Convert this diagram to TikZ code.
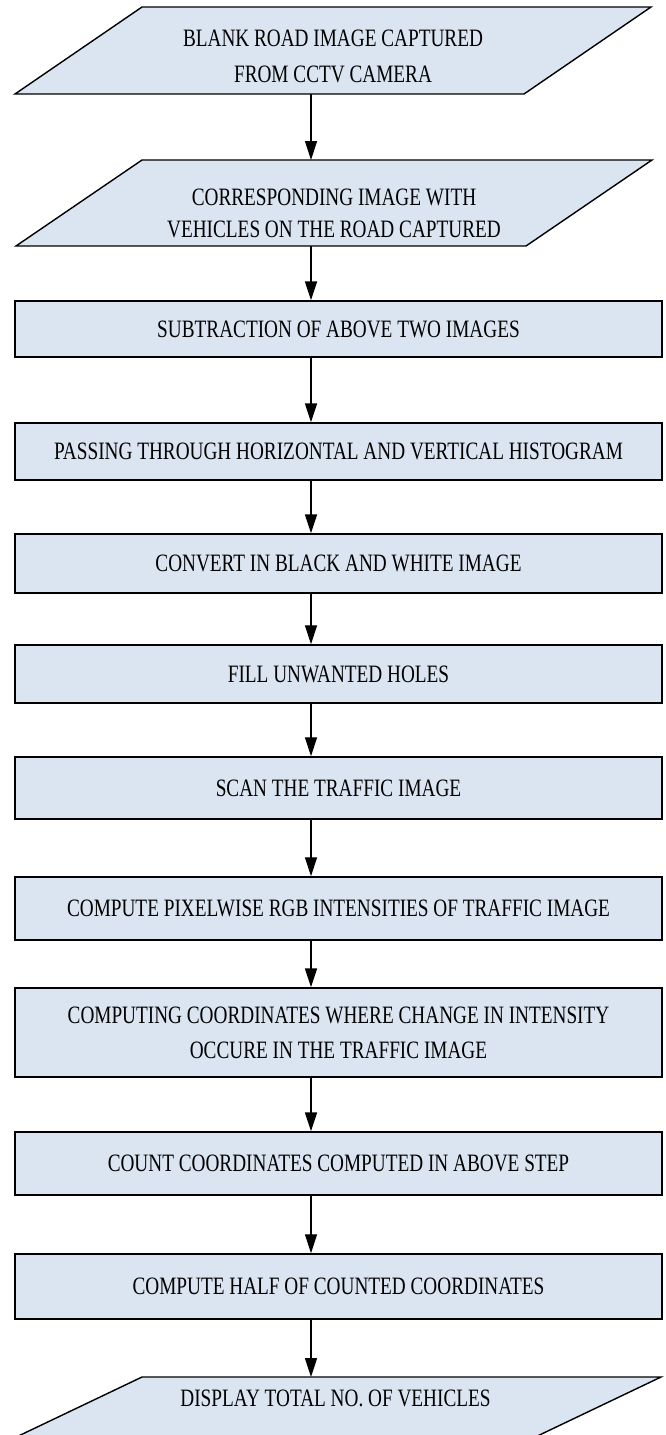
\documentclass[tikz,border=0pt]{standalone}
\usepackage{fontspec}
\setmainfont[FakeStretch=0.77]{Liberation Serif}
\usetikzlibrary{arrows.meta,calc}
\definecolor{boxfill}{HTML}{DBE5F1}
\begin{document}
\begin{tikzpicture}[x=1pt,y=-1pt,
  txt/.style={font=\fontsize{25}{36}\selectfont, inner sep=0pt, align=center, text=black},
  stepbox/.style={txt, draw=black, line width=1.4pt, fill=boxfill, minimum width=647pt},
  holder/.style={inner sep=0pt, outer sep=0pt},
  para/.style={draw=black, line width=1.4pt, fill=boxfill, line join=miter},
  arr/.style={-{Triangle[length=19pt,width=12pt]}, line width=1.6pt},
  arrthin/.style={-{Triangle[length=19pt,width=12pt]}, line width=1.1pt}]
\clip (0,0) rectangle (665,1435);
\coordinate (ax) at (311,0);

% parallelogram 1
\node[holder, minimum width=636pt, minimum height=87pt] (p1) at (333,50.5) {};
\path[para] ($(p1.north west)+(127,0)$) -- (p1.north east) -- ($(p1.south east)+(-127,0)$) -- (p1.south west) -- cycle;
\node[txt, font=\fontsize{25}{36}\selectfont] (t1) at ($(p1.center)+(0,6)$) {BLANK ROAD IMAGE CAPTURED\\FROM CCTV CAMERA};

% parallelogram 2
\node[holder, minimum width=636pt, minimum height=86pt] (p2) at (334,203) {};
\path[para] ($(p2.north west)+(126,0)$) -- (p2.north east) -- ($(p2.south east)+(-126,0)$) -- (p2.south west) -- cycle;
\node[txt, font=\fontsize{25}{32}\selectfont] (t2) at ($(p2.center)+(0,10)$) {CORRESPONDING IMAGE WITH\\VEHICLES ON THE ROAD CAPTURED};

% rectangles
\node[stepbox, minimum height=56pt] (r1) at (338.5,329) {SUBTRACTION OF ABOVE TWO IMAGES};
\node[stepbox, minimum height=57pt] (r2) at (338.5,451.5) {PASSING THROUGH HORIZONTAL AND VERTICAL HISTOGRAM};
\node[stepbox, minimum height=59pt] (r3) at (338.5,563.5) {CONVERT IN BLACK AND WHITE IMAGE};
\node[stepbox, minimum height=58pt] (r4) at (338.5,674) {FILL UNWANTED HOLES};
\node[stepbox, minimum height=62pt] (r5) at (338.5,788) {SCAN THE TRAFFIC IMAGE};
\node[stepbox, minimum height=63pt] (r6) at (338.5,908.5) {COMPUTE PIXELWISE RGB INTENSITIES OF TRAFFIC IMAGE};
\node[stepbox, minimum height=89pt, font=\fontsize{25}{35}\selectfont] (r7) at (338.5,1032.5) {COMPUTING COORDINATES WHERE CHANGE IN INTENSITY\\OCCURE IN THE TRAFFIC IMAGE};
\node[stepbox, minimum height=63pt] (r8) at (338.5,1163.5) {COUNT COORDINATES COMPUTED IN ABOVE STEP};
\node[stepbox, minimum height=65pt] (r9) at (338.5,1286.5) {COMPUTE HALF OF COUNTED COORDINATES};

% parallelogram 3 (runs off the bottom edge)
\node[holder, minimum width=651pt, minimum height=63pt] (p3) at (335.5,1408.5) {};
\path[para] ($(p3.north west)+(132,0)$) -- (p3.north east) -- ($(p3.south east)+(-132,0)$) -- (p3.south west) -- cycle;
\node[txt] (t3) at ($(p3.center)+(0,-10.5)$) {DISPLAY TOTAL NO. OF VEHICLES};

% connectors
\draw[arrthin] (p1.south -| ax) -- (p2.north -| ax);
\draw[arr] (p2.south -| ax) -- (r1.north -| ax);
\draw[arr] (r1.south -| ax) -- (r2.north -| ax);
\draw[arr] (r2.south -| ax) -- (r3.north -| ax);
\draw[arrthin] (r3.south -| ax) -- (r4.north -| ax);
\draw[arrthin] (r4.south -| ax) -- (r5.north -| ax);
\draw[arrthin] (r5.south -| ax) -- (r6.north -| ax);
\draw[arr] (r6.south -| ax) -- (r7.north -| ax);
\draw[arr] (r7.south -| ax) -- (r8.north -| ax);
\draw[arrthin] (r8.south -| ax) -- (r9.north -| ax);
\draw[arr] (r9.south -| ax) -- (p3.north -| ax);
\end{tikzpicture}
\end{document}
